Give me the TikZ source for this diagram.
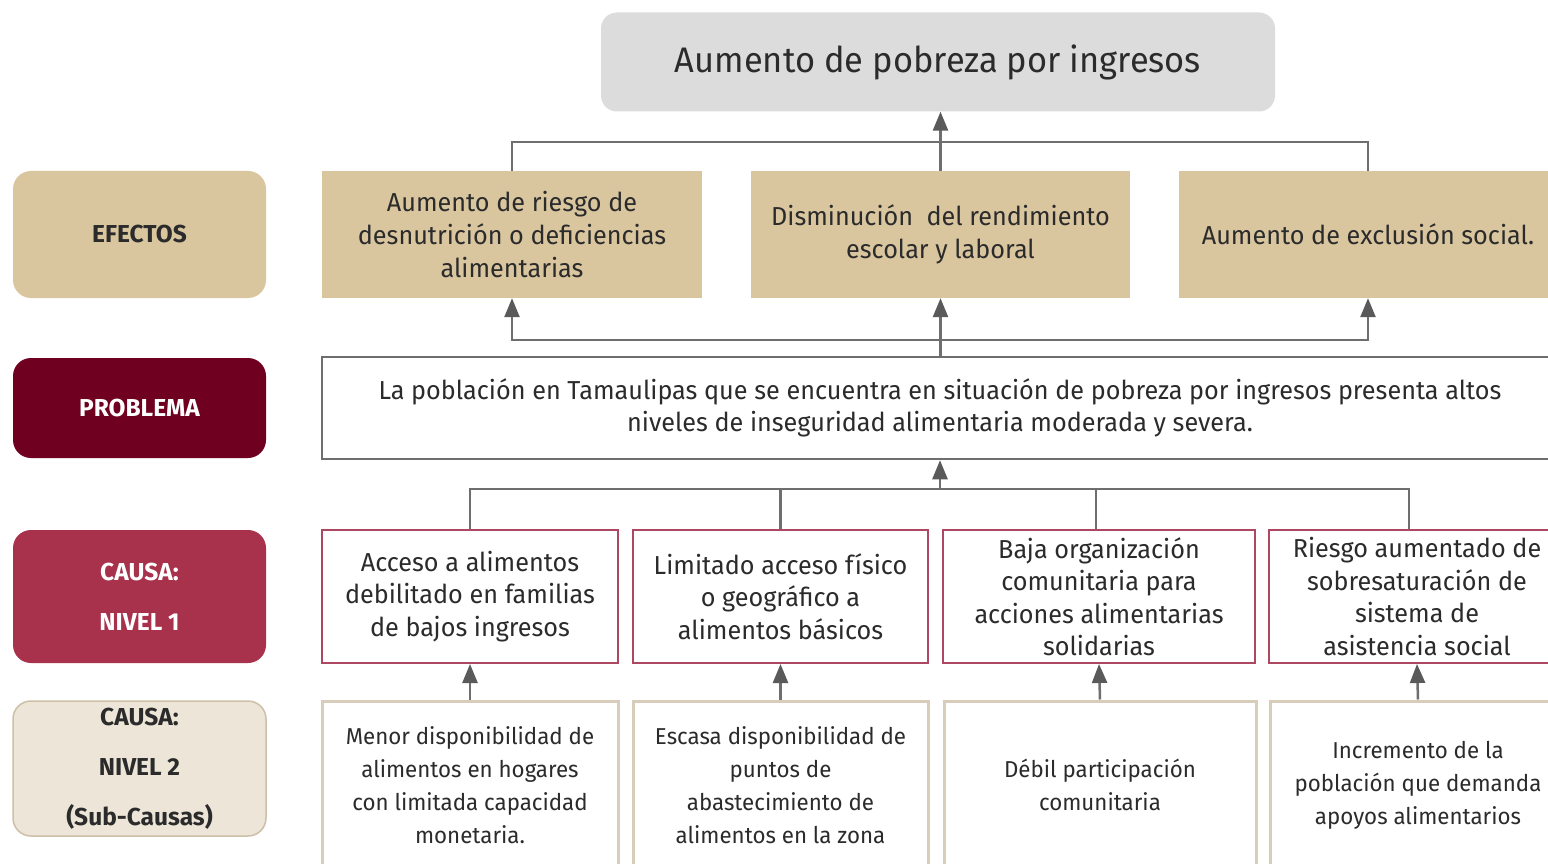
\documentclass[tikz,border=0pt]{standalone}
\usepackage{fontspec}
\setmainfont{Fira Sans}[FakeStretch=0.97]
\newfontfamily\labfont{Fira Sans}
\usetikzlibrary{arrows.meta}
\definecolor{tan}{HTML}{D9C69F}
\definecolor{titlegray}{HTML}{DCDCDC}
\definecolor{maroon}{HTML}{6F0020}
\definecolor{causared}{HTML}{A8314B}
\definecolor{nivelfill}{HTML}{ECE5D8}
\definecolor{nivelborder}{HTML}{CDBFA8}
\definecolor{causeborder}{HTML}{AE4862}
\definecolor{subborder}{HTML}{D8CCBA}
\definecolor{conngray}{HTML}{6E6E6E}
\definecolor{arrgray}{HTML}{5A5A5A}
\definecolor{txt}{HTML}{2B2B2B}
\tikzset{
  lab/.style={rounded corners=18pt, minimum width=253pt, inner sep=0pt, align=center,
    font=\labfont\fontsize{24.5}{50}\selectfont\bfseries},
  effbox/.style={fill=tan, minimum height=127pt, inner sep=0pt, align=center, text=txt,
    font=\fontsize{26}{33}\selectfont},
  causebox/.style={draw=causeborder, line width=2pt, fill=white, minimum height=133pt, inner sep=0pt,
    align=center, text=txt, font=\fontsize{26}{32.5}\selectfont},
  subbox/.style={draw=subborder, line width=3pt, fill=white, minimum height=168pt, inner sep=0pt,
    align=center, text=txt, font=\fontsize{23}{33}\selectfont},
  conn/.style={draw=conngray, line width=2.5pt},
  arr/.style={conn, -{Triangle[length=19pt,width=15pt,color=arrgray]}},
}
\begin{document}
\begin{tikzpicture}[x=1pt,y=-1pt]
\useasboundingbox (0,0) rectangle (1548,864);
\clip (0,0) rectangle (1548,864);
\fill[white] (0,0) rectangle (1548,864);

% title
\node[fill=titlegray, rounded corners=16pt, minimum width=674pt, minimum height=99pt, inner sep=0pt,
  text=txt, font=\fontsize{35.5}{40}\selectfont] (title) at (938,62) {Aumento de pobreza por ingresos};

% left labels
\node[lab, fill=tan, text=txt, minimum height=127pt] (lef) at (139.5,234.5) {EFECTOS};
\node[lab, fill=maroon, text=white, minimum height=100pt] (lpr) at (139.5,408) {PROBLEMA};
\node[lab, fill=causared, text=white, minimum height=133pt] (lc1) at (139.5,596.5) {CAUSA:\\NIVEL 1};
\node[lab, fill=nivelfill, draw=nivelborder, line width=1.5pt, text=txt, minimum height=135pt] (lc2) at (139.5,768.5) {CAUSA:\\NIVEL 2\\(Sub-Causas)};

% effects
\node[effbox, minimum width=380pt] (E1) at (512,234.5) {Aumento de riesgo de\\desnutrición o deficiencias\\alimentarias};
\node[effbox, minimum width=379pt] (E2) at (940.5,234.5) {Disminución~ del rendimiento\\escolar y laboral};
\node[effbox, minimum width=378pt] (E3) at (1368,234.5) {Aumento de exclusión social.};

% problem
\node[draw=conngray, line width=2.5pt, fill=white, minimum width=1236pt, minimum height=102pt, inner sep=0pt,
  align=center, text=txt, font=\fontsize{26}{32}\selectfont] (P) at (940,408)
  {La población en Tamaulipas que se encuentra en situación de pobreza por ingresos presenta altos\\niveles de inseguridad alimentaria moderada y severa.};

% causes
\node[causebox, minimum width=296pt] (C1) at (470,596.5) {Acceso a alimentos\\debilitado en familias\\de bajos ingresos};
\node[causebox, minimum width=295pt] (C2) at (780.5,596.5) {Limitado acceso físico\\o geográfico a\\alimentos básicos};
\node[causebox, minimum width=312pt] (C3) at (1099,596.5) {Baja organización\\comunitaria para\\acciones alimentarias\\solidarias};
\node[causebox, minimum width=296pt] (C4) at (1417,596.5) {Riesgo aumentado de\\sobresaturación de\\sistema de\\asistencia social};

% sub-causes
\node[subbox, minimum width=296pt] (S1) at (470,785) {Menor disponibilidad de\\alimentos en hogares\\con limitada capacidad\\monetaria.};
\node[subbox, minimum width=295pt] (S2) at (780.5,785) {Escasa disponibilidad de\\puntos de\\abastecimiento de\\alimentos en la zona};
\node[subbox, minimum width=312pt] (S3) at (1100,785) {Débil participación\\comunitaria};
\node[subbox, minimum width=296pt] (S4) at (1418,785) {Incremento de la\\población que demanda\\apoyos alimentarios};

% connectors: effects -> title
\draw[conn] (E1.north) -- ++(0,-29) -| (E3.north);
\draw[arr] (E2.north) -- (E2.north |- title.south);

% problem -> effects
\coordinate (jb) at (940.5,340);
\draw[arr] (P.north -| E2.south) -- (E2.south);
\draw[arr] (jb) -| (E1.south);
\draw[arr] (jb) -| (E3.south);

% causes -> problem
\coordinate (jc) at (940,489);
\draw[arr] (jc) -- (P.south);
\draw[conn] (C1.north) -- (C1.north |- jc) -- (1409,489) -- ([xshift=-8pt]C4.north);
\draw[conn] (C2.north) -- (C2.north |- jc);
\draw[conn] ([xshift=-3pt]C3.north) -- ([xshift=-3pt]C3.north |- jc);

% sub-causes -> causes
\draw[arr] (S1.north) -- (C1.south);
\draw[arr] (S2.north) -- (C2.south);
\draw[arr] (S3.north) -- (C3.south);
\draw[arr] (S4.north) -- (C4.south);
\end{tikzpicture}
\end{document}
